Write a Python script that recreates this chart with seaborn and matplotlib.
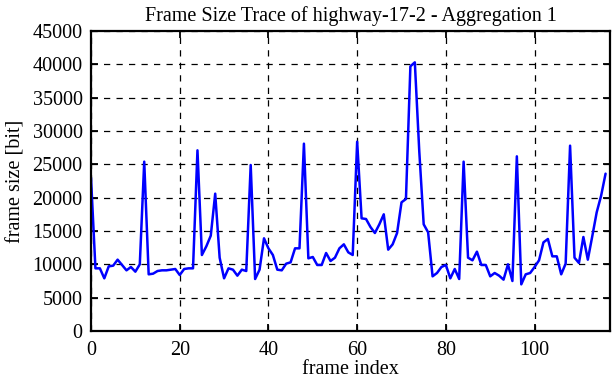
import matplotlib
matplotlib.use("Agg")
import matplotlib.pyplot as plt
import seaborn as sns
import pandas as pd

frame_size = [
    23000, 9400, 9400, 7900, 9700, 9800, 10700, 9900, 9100, 9600,
    8900, 10000, 25400, 8500, 8600, 9000, 9100, 9100, 9200, 9300,
    8400, 9300, 9400, 9400, 27100, 11400, 12700, 14300, 20600, 11000,
    7900, 9400, 9200, 8300, 9200, 9000, 24900, 7800, 9200, 13900,
    12400, 11400, 9200, 9100, 10100, 10300, 12400, 12400, 28100, 10900,
    11100, 9900, 9900, 11700, 10500, 11000, 12400, 13000, 11800, 11400,
    28400, 16900, 16800, 15600, 14700, 16000, 17500, 12200, 13000, 14700,
    19300, 19800, 39700, 40300, 27000, 16000, 14800, 8200, 8700, 9600,
    9900, 7900, 9300, 7800, 25400, 11000, 10600, 11900, 9900, 9900,
    8200, 8700, 8300, 7700, 10000, 7500, 26200, 7000, 8500, 8700,
    9600, 10600, 13300, 13800, 11200, 11200, 8500, 10100, 27800, 11000,
    10200, 14100, 10700, 14200, 17800, 20300, 23600,
]
frame_index = list(range(len(frame_size)))

x_ticks = [0, 20, 40, 60, 80, 100]
y_ticks = [0, 5000, 10000, 15000, 20000, 25000, 30000, 35000, 40000, 45000]

df = pd.DataFrame({"frame index": frame_index, "frame size [bit]": frame_size})

sns.set_theme(style="white")
plt.rcParams["font.family"] = ["Liberation Serif", "DejaVu Serif"]

fig = plt.figure(figsize=(6.12, 3.82), dpi=100)
ax = fig.add_axes([91 / 612, 1 - 331 / 382, (610 - 91) / 612, 300 / 382])

sns.lineplot(data=df, x="frame index", y="frame size [bit]", ax=ax,
             color="#0000ff", linewidth=1.8)

ax.set_xlim(0, 117)
ax.set_ylim(0, 45000)
ax.set_xticks(x_ticks)
ax.set_yticks(y_ticks)
ax.grid(True, color="black", linestyle=(0, (5, 5)), linewidth=0.9)
ax.set_axisbelow(True)
for s in ax.spines.values():
    s.set_color("black")
    s.set_linewidth(1.6)
ax.tick_params(axis="both", which="both", direction="in", length=5, width=1.3,
               top=True, right=True, labelsize=14.5, colors="black",
               bottom=True, left=True, pad=6)
ax.tick_params(axis="x", pad=7)
ax.set_xlabel("frame index", fontsize=14.5, color="black", labelpad=0)
ax.set_ylabel("frame size [bit]", fontsize=14.5, color="black", labelpad=5)
ax.set_title("Frame Size Trace of highway-17-2 - Aggregation 1", fontsize=14.5,
             color="black", pad=7)

fig.savefig("out.png", dpi=100)
